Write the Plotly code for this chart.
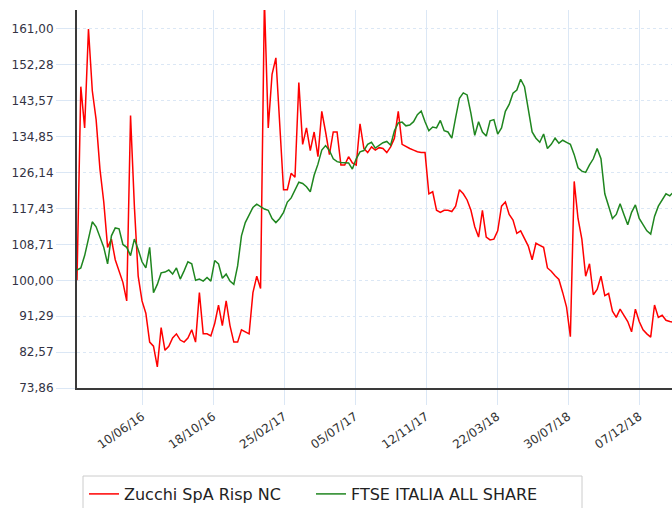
import pandas as pd
import plotly.graph_objects as go

start_date = "2016-02-12"
x_range = ["2016-02-12", "2019-02-05"]

red_values = [
    100.0, 147.0, 137.0, 161.0, 146.0, 139.0, 127.0, 119.0, 108.0, 110.0,
    105.0, 102.0, 99.5, 95.0, 140.0, 118.0, 101.0, 95.0, 92.0, 85.0,
    84.0, 79.0, 88.5, 83.0, 84.0, 86.0, 87.0, 85.5, 85.0, 86.0,
    88.0, 85.0, 97.0, 87.0, 87.0, 86.5, 89.5, 94.0, 89.0, 95.0,
    89.0, 85.0, 85.0, 88.0, 87.5, 87.0, 97.0, 101.0, 98.0, 168.0,
    137.0, 150.0, 154.0, 138.0, 122.0, 122.0, 126.0, 125.0, 148.0, 133.0,
    137.0, 131.5, 136.0, 130.0, 141.0, 136.0, 130.5, 136.0, 136.0, 128.0,
    128.0, 130.0, 128.5, 128.0, 138.0, 132.0, 131.0, 132.4, 131.6, 132.2,
    132.0, 131.0, 132.4, 134.5, 141.0, 133.0, 132.4, 132.0, 131.6, 131.2,
    131.0, 131.0, 121.0, 121.5, 117.0, 116.5, 117.0, 117.0, 116.7, 118.0,
    122.0, 121.0, 119.5, 117.0, 113.0, 110.5, 117.0, 110.5, 109.8, 110.0,
    112.0, 118.0, 119.0, 116.0, 114.6, 111.4, 112.0, 110.3, 108.3, 105.0,
    109.0, 108.5, 108.0, 103.0, 102.2, 101.1, 100.2, 97.0, 93.5, 86.3,
    124.0, 115.0, 110.0, 101.0, 104.0, 96.5, 97.8, 101.0, 96.3, 96.8,
    92.5, 91.0, 93.0, 91.5, 90.0, 87.5, 93.0, 90.0, 88.0, 87.0,
    86.2, 94.0, 91.0, 91.5, 90.3, 90.0, 89.8,
]

green_values = [
    102.5, 103.0, 106.0, 110.3, 114.2, 113.0, 110.3, 108.0, 104.0, 110.8,
    112.7, 112.5, 108.7, 108.0, 106.0, 110.0, 107.5, 104.5, 103.0, 108.0,
    97.0, 99.0, 101.8, 102.0, 102.5, 101.5, 103.0, 100.3, 102.3, 104.5,
    104.0, 100.0, 100.3, 99.8, 100.7, 99.8, 104.8, 104.0, 100.5, 101.5,
    99.8, 99.0, 103.5, 110.8, 114.0, 116.0, 117.7, 118.5, 117.8, 117.3,
    117.0, 115.0, 114.0, 115.0, 116.5, 119.0, 120.0, 122.0, 123.8, 123.5,
    122.7, 121.5, 125.5, 128.2, 131.6, 132.7, 131.5, 129.5, 128.8, 128.6,
    128.6, 128.5, 127.0, 129.5, 131.2, 131.5, 133.0, 133.5, 132.1, 132.7,
    133.4, 133.7, 132.8, 136.3, 138.2, 138.4, 137.5, 137.7, 138.5, 140.2,
    141.1, 138.5, 136.3, 137.2, 137.0, 138.8, 136.3, 136.0, 134.5, 139.5,
    144.2, 145.5, 145.0, 140.5, 135.2, 138.5, 136.0, 135.0, 138.7, 139.0,
    135.5, 137.0, 141.0, 142.7, 145.4, 146.2, 148.8, 147.0, 142.0, 136.0,
    134.5, 133.5, 135.5, 132.0, 133.0, 134.5, 133.3, 134.0, 133.5, 133.0,
    130.5, 127.3, 126.5, 126.2, 128.0, 129.5, 132.0, 129.5, 121.0, 118.0,
    115.0, 116.0, 118.6, 116.0, 113.5, 116.5, 118.3, 115.0, 113.5, 112.0,
    111.2, 115.5, 118.0, 119.5, 121.0, 120.5, 121.5,
]

dates = pd.date_range(start_date, periods=len(red_values), freq="7D")

x_tick_dates = ["2016-06-10", "2016-10-18", "2017-02-25", "2017-07-05",
                "2017-11-12", "2018-03-22", "2018-07-30", "2018-12-07"]
x_tick_labels = ["10/06/16", "18/10/16", "25/02/17", "05/07/17",
                 "12/11/17", "22/03/18", "30/07/18", "07/12/18"]

y_tick_vals = [73.86, 82.57, 91.29, 100.00, 108.71, 117.43, 126.14,
               134.85, 143.57, 152.28, 161.00]
y_tick_labels = ["73,86", "82,57", "91,29", "100,00", "108,71", "117,43",
                 "126,14", "134,85", "143,57", "152,28", "161,00"]

series_names = ["Zucchi SpA Risp NC", "FTSE ITALIA ALL SHARE"]

grid_color = "#dbe7f5"
font_family = "DejaVu Sans, Verdana, sans-serif"

fig = go.Figure()
fig.add_trace(go.Scatter(x=dates, y=red_values, mode="lines", name=series_names[0],
                         line=dict(color="#ff0000", width=1.5)))
fig.add_trace(go.Scatter(x=dates, y=green_values, mode="lines", name=series_names[1],
                         line=dict(color="#1f861f", width=1.5)))

# legend frame (wider than the auto-sized legend box)
fig.add_shape(type="rect", xref="paper", yref="paper",
              x0=(83 - 77) / 595, x1=(582 - 77) / 595,
              y0=(388 - 476) / 378, y1=(388 - 515) / 378,
              line=dict(color="#cccccc", width=1), fillcolor="rgba(0,0,0,0)",
              layer="above")

fig.update_layout(
    width=672, height=508, autosize=False,
    margin=dict(l=77, r=0, t=10, b=120, autoexpand=False),
    paper_bgcolor="white", plot_bgcolor="white",
    font=dict(family=font_family, color="#333333", size=12),
    showlegend=True,
    legend=dict(
        orientation="h",
        xref="container", yref="container",
        x=84 / 672, xanchor="left", y=1 - 477 / 508, yanchor="top",
        borderwidth=0, bgcolor="rgba(0,0,0,0)",
        font=dict(size=16, color="#222222", family=font_family),
        itemwidth=30,
        entrywidth=182,
    ),
    xaxis=dict(
        range=x_range, automargin=False,
        tickvals=x_tick_dates, ticktext=x_tick_labels,
        tickangle=-35,
        showgrid=True, gridcolor=grid_color, gridwidth=1,
        ticks="outside", ticklen=15, tickcolor=grid_color, tickwidth=1,
        showline=True, linecolor="#3a3a3a", linewidth=2,
        tickfont=dict(size=12, color="#333333"),
        zeroline=False, fixedrange=True,
    ),
    yaxis=dict(
        range=[73.86, 165.61], automargin=False,
        tickvals=y_tick_vals, ticktext=y_tick_labels,
        showgrid=True, gridcolor=grid_color, gridwidth=1, griddash="dot",
        ticks="outside", ticklen=19, tickcolor=grid_color, tickwidth=1,
        showline=True, linecolor="#3a3a3a", linewidth=2,
        tickfont=dict(size=12, color="#333344"),
        zeroline=False, fixedrange=True,
    ),
)

post = (
    "document.documentElement.style.margin='0';"
    "document.body.style.margin='0';document.body.style.padding='0';"
    "document.body.style.overflow='hidden';"
    "var gd=document.getElementById('{plot_id}');"
    "gd.style.width='672px';gd.style.height='508px';"
    "Plotly.relayout(gd,{width:672,height:508});"
)

fig.write_html("out.html", config={"responsive": False, "displayModeBar": False},
               post_script=post)
